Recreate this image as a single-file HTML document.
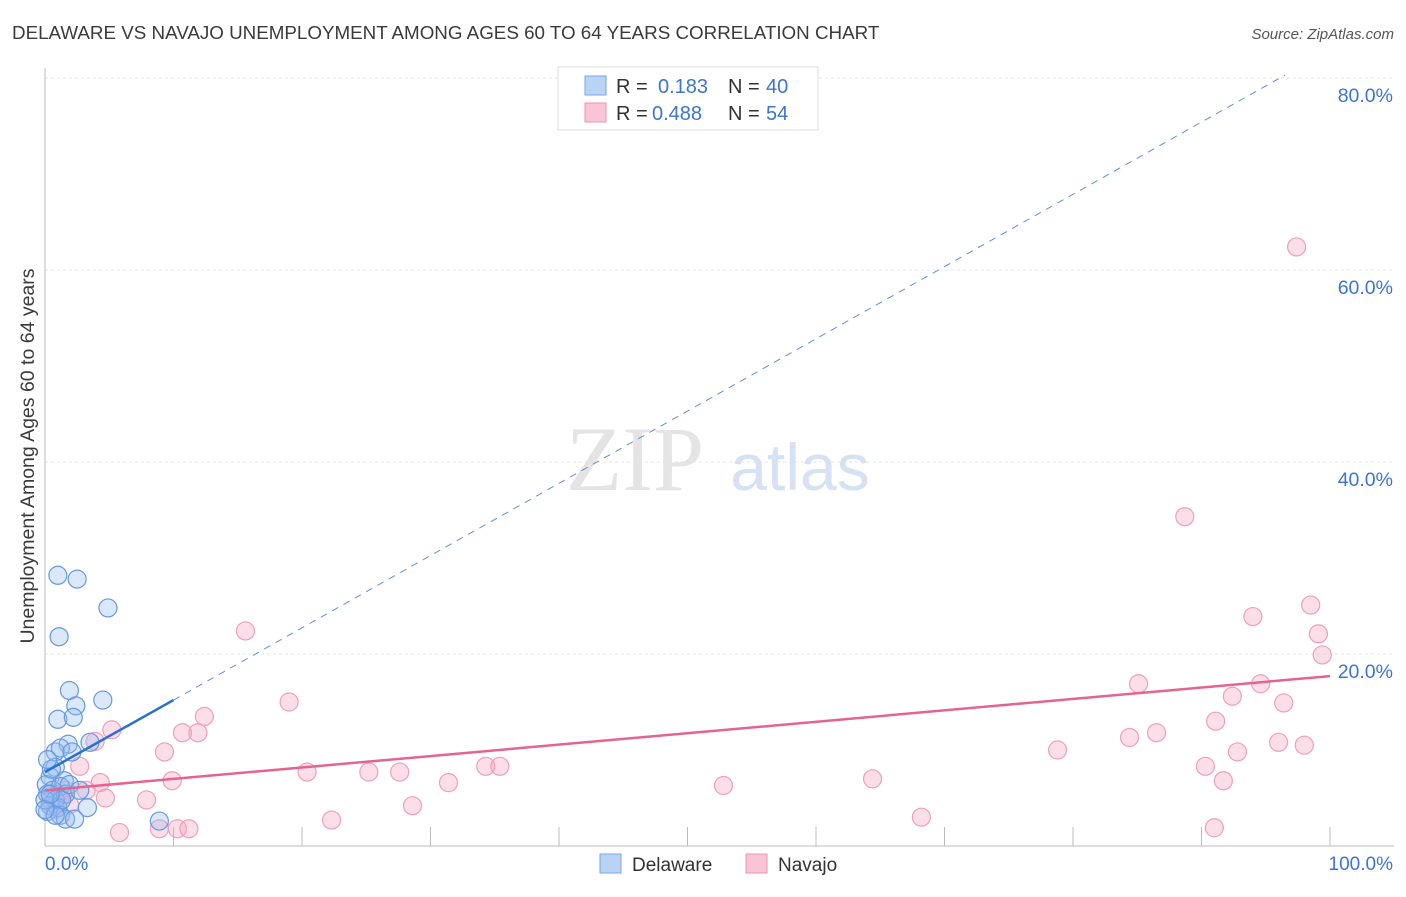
<!DOCTYPE html>
<html><head><meta charset="utf-8"><style>
body{margin:0;background:#fff;font-family:"Liberation Sans",sans-serif;}
</style></head><body>
<svg width="1406" height="892" xmlns="http://www.w3.org/2000/svg">
<text x="12" y="39" font-size="18.8" fill="#3a3a3a">DELAWARE VS NAVAJO UNEMPLOYMENT AMONG AGES 60 TO 64 YEARS CORRELATION CHART</text>
<text x="1394" y="39" font-size="15" fill="#555" font-style="italic" text-anchor="end">Source: ZipAtlas.com</text>
<g id="grid"></g>
<text x="635" y="490" font-size="92" fill="#e4e4e4" font-family="Liberation Serif,serif" text-anchor="middle">ZIP</text>
<text x="800" y="490" font-size="66" fill="#d6e2f3" text-anchor="middle">atlas</text>
<g id="marks"></g>
<text transform="translate(34,456) rotate(-90)" font-size="19.5" fill="#3a3a3a" text-anchor="middle">Unemployment Among Ages 60 to 64 years</text>
<g>
<rect x="558" y="67" width="260" height="63" fill="#fff" stroke="#ddd"/>
<rect x="585" y="76" width="21" height="19" fill="#b9d3f5" stroke="#7aa6e6"/>
<rect x="585" y="103" width="21" height="19" fill="#f9c5d6" stroke="#eb93b0"/>
<text x="616" y="93" font-size="20" fill="#333">R =</text>
<text x="658" y="93" font-size="20" fill="#3d74d0">0.183</text>
<text x="728" y="93" font-size="20" fill="#333">N =</text>
<text x="766" y="93" font-size="20" fill="#3d74d0">40</text>
<text x="616" y="120" font-size="20" fill="#333">R =</text>
<text x="652" y="120" font-size="20" fill="#3d74d0">0.488</text>
<text x="728" y="120" font-size="20" fill="#333">N =</text>
<text x="766" y="120" font-size="20" fill="#3d74d0">54</text>
</g>
<g>
<rect x="600" y="854" width="21" height="19" fill="#b9d3f5" stroke="#7aa6e6"/>
<text x="632" y="871" font-size="19" fill="#333">Delaware</text>
<rect x="746" y="854" width="21" height="19" fill="#f9c5d6" stroke="#eb93b0"/>
<text x="778" y="871" font-size="19" fill="#333">Navajo</text>
</g>
</svg>
<script>
const yTicks=[20,40,60,80];
const xTickLabels=["0.0%","100.0%"];
const delX=[1.0,2.5,4.9,1.1,1.9,4.5,2.4,1.0,2.2,1.8,3.5,0.8,1.2,2.1,0.8,0.4,1.5,0.1,0.6,1.2,0.2,0.8,1.6,0.4,1.0,0.2,1.2,1.6,2.3,3.3,8.9,0,1.3,1.9,0.8,0,0.5,2.7,0.2,0.4];
const delY=[28.2,27.8,24.8,21.8,16.2,15.2,14.6,13.2,13.4,10.6,10.8,9.8,10.2,9.8,8.2,7.2,6.8,6.4,5.8,6.2,5.4,4.8,5.4,4.2,4.0,3.6,3.2,2.8,2.8,4.0,2.6,4.8,4.8,6.4,3.2,3.8,8.0,5.8,9.0,5.4];
const navX=[97.4,88.7,94.0,98.5,99.1,99.4,85.1,94.6,92.4,96.4,91.1,86.5,84.4,96.0,98.0,78.8,92.8,90.3,91.7,64.4,52.8,91.0,68.2,15.6,19.0,12.4,10.7,11.9,5.2,3.9,9.3,20.4,25.2,27.6,34.3,35.4,31.4,9.9,4.3,2.7,3.2,4.7,7.9,28.6,22.3,5.8,8.9,10.3,11.2,1.2,1.9,0.8,1.6,0.4];
const navY=[62.4,34.3,23.9,25.1,22.1,19.9,16.9,16.9,15.6,14.9,13.0,11.8,11.3,10.8,10.5,10.0,9.8,8.3,6.8,7.0,6.3,1.9,3.0,22.4,15.0,13.5,11.8,11.8,12.1,10.9,9.8,7.7,7.7,7.7,8.3,8.3,6.6,6.8,6.6,8.3,5.8,5.0,4.8,4.2,2.7,1.4,1.8,1.8,1.8,5.0,4.3,3.8,5.8,4.8];
const delTrend=[[0,7.7],[10,15.2]];
const delTrendExt=[[10,15.2],[96.5,80.3]];
const navTrend=[[0,5.8],[100,17.7]];
const NS="http://www.w3.org/2000/svg";
const X=v=>45+v*12.85, Y=v=>846-v*9.6;
function mk(t,a,p){const e=document.createElementNS(NS,t);for(const k in a)e.setAttribute(k,a[k]);p.appendChild(e);return e;}
const g=document.getElementById('grid'),m=document.getElementById('marks');
yTicks.forEach(t=>{
 const l=mk('line',{x1:45,x2:1394,y1:Y(t),y2:Y(t),stroke:'#e6e6e6','stroke-dasharray':'3,3'},g);
 
 
 const tx=mk('text',{x:1393,y:Y(t)+24,'font-size':19.5,fill:'#3d74d0','text-anchor':'end'},g);
 tx.textContent=t.toFixed(1)+'%';
 
 
});
const ax=mk('line',{x1:45,x2:45,y1:68,y2:846,stroke:'#bbb'},g);


const bx=mk('line',{x1:45,x2:1394,y1:846,y2:846,stroke:'#bbb'},g);


for(let i=1;i<=10;i++){const t=mk('line',{x1:X(i*10),x2:X(i*10),y1:827,y2:846,stroke:'#bbb'},g);
 
 }
xTickLabels.forEach((s,i)=>{const t=mk('text',{x:i?1393:45,y:870,'font-size':19,fill:'#3d74d0','text-anchor':i?'end':'start'},g);t.textContent=s;
 
 });
navX.forEach((v,i)=>{const c=mk('circle',{cx:X(v),cy:Y(navY[i]),r:9,fill:'rgba(245,160,190,0.35)',stroke:'#ee9fba','stroke-width':1.2},m);
 
 });
delX.forEach((v,i)=>{const c=mk('circle',{cx:X(v),cy:Y(delY[i]),r:9,fill:'rgba(150,190,240,0.35)',stroke:'#6598e0','stroke-width':1.2},m);
 
 });
const l1=mk('line',{x1:X(delTrendExt[0][0]),y1:Y(delTrendExt[0][1]),x2:X(delTrendExt[1][0]),y2:Y(delTrendExt[1][1]),stroke:'#5b8fe0','stroke-width':1,'stroke-dasharray':'7,6'},m);


const l2=mk('line',{x1:X(delTrend[0][0]),y1:Y(delTrend[0][1]),x2:X(delTrend[1][0]),y2:Y(delTrend[1][1]),stroke:'#2a6fd6','stroke-width':2.5},m);


const l3=mk('line',{x1:X(navTrend[0][0]),y1:Y(navTrend[0][1]),x2:X(navTrend[1][0]),y2:Y(navTrend[1][1]),stroke:'#e5648f','stroke-width':2.5},m);


</script>
</body></html>
